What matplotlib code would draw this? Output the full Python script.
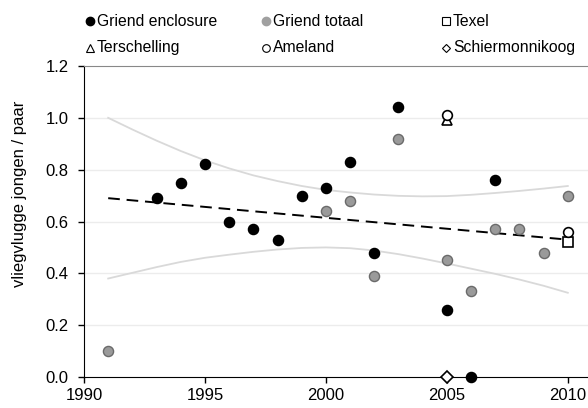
import matplotlib.pyplot as plt
from matplotlib.lines import Line2D

# Griend enclosure (black)
encl_years = [1993, 1994, 1995, 1996, 1997, 1998, 1999, 2000, 2001, 2002, 2003, 2005, 2006, 2007]
encl_vals = [0.69, 0.75, 0.82, 0.60, 0.57, 0.53, 0.70, 0.73, 0.83, 0.48, 1.04, 0.26, 0.00, 0.76]

# Griend totaal (grey)
tot_years = [1991, 2000, 2001, 2002, 2003, 2005, 2006, 2007, 2008, 2009, 2010]
tot_vals = [0.10, 0.64, 0.68, 0.39, 0.92, 0.45, 0.33, 0.57, 0.57, 0.48, 0.70]

texel_years, texel_vals = [2010], [0.52]
tersch_years, tersch_vals = [2005], [0.99]
ameland_years, ameland_vals = [2005, 2010], [1.01, 0.56]
schier_years, schier_vals = [2005], [0.00]

# trend line and band
trend_years = [1991, 2010]
trend_vals = [0.69, 0.53]
band_years = list(range(1991, 2011))
band_upper = [1.00, 0.955, 0.912, 0.872, 0.836, 0.805, 0.778, 0.756, 0.737, 0.722,
              0.712, 0.704, 0.699, 0.697, 0.698, 0.703, 0.71, 0.718, 0.727, 0.737]
band_lower = [0.38, 0.402, 0.424, 0.444, 0.46, 0.472, 0.483, 0.492, 0.498, 0.50,
              0.497, 0.488, 0.474, 0.457, 0.438, 0.418, 0.398, 0.376, 0.352, 0.325]

legend_labels = ["Griend enclosure", "Griend totaal", "Texel",
                 "Terschelling", "Ameland", "Schiermonnikoog"]

plt.rcParams['font.family'] = ['Liberation Sans', 'DejaVu Sans']

W, H = 588, 408
fig = plt.figure(figsize=(W / 100, H / 100), dpi=100)
ax = fig.add_axes([84 / W, 1 - 377 / H, 508 / W, 311 / H])

ax.plot(band_years, band_upper, color='#d9d9d9', lw=1.3, zorder=1)
ax.plot(band_years, band_lower, color='#d9d9d9', lw=1.3, zorder=1)
ax.plot(trend_years, trend_vals, color='black', lw=1.4, dashes=(6, 3.5), zorder=2)

ms = 7.3
ax.plot(tot_years, tot_vals, 'o', ms=ms, mfc='#9a9a9a', mec='#6a6a6a', mew=1.0,
        zorder=3, clip_on=False)
ax.plot(encl_years, encl_vals, 'o', ms=ms, mfc='black', mec='black',
        zorder=4, clip_on=False)
ax.plot(texel_years, texel_vals, 's', ms=6.5, mfc='white', mec='black', mew=1.2,
        zorder=5, clip_on=False)
ax.plot(tersch_years, tersch_vals, '^', ms=7.5, mfc='white', mec='black', mew=1.2,
        zorder=5, clip_on=False)
ax.plot(ameland_years, ameland_vals, 'o', ms=7, mfc='white', mec='black', mew=1.2,
        zorder=6, clip_on=False)
ax.plot(schier_years, schier_vals, 'D', ms=6.5, mfc='white', mec='black', mew=1.2,
        zorder=6, clip_on=False)

ax.set_xlim(1990, 2011)
ax.set_ylim(0, 1.2)
ax.set_xticks([1990, 1995, 2000, 2005, 2010])
yt = [0.0, 0.2, 0.4, 0.6, 0.8, 1.0, 1.2]
ax.set_yticks(yt)
ax.set_yticklabels([f"{v:.1f}" for v in yt])
ax.tick_params(labelsize=12, length=4, width=1, colors='black')
ax.tick_params(axis='y', pad=7)
ax.tick_params(axis='x', pad=4)
for y in yt[1:-1]:
    ax.axhline(y, color='#ececec', lw=1, zorder=0)

ax.spines['right'].set_visible(False)
ax.spines['top'].set_color('#888888')
ax.spines['left'].set_color('black')
ax.spines['bottom'].set_color('black')
ax.set_ylabel("vliegvlugge jongen / paar", fontsize=12)
ax.yaxis.set_label_coords(-57 / 508, (377 - 194) / 311)

# legend, two rows of three, drawn by hand
leg_styles = [
    dict(marker='o', ms=6, mfc='black', mec='black', mew=1),
    dict(marker='o', ms=6, mfc='#a0a0a0', mec='#a0a0a0', mew=1),
    dict(marker='s', ms=5.5, mfc='white', mec='black', mew=0.8),
    dict(marker='^', ms=5.5, mfc='white', mec='black', mew=0.8),
    dict(marker='o', ms=5.5, mfc='white', mec='black', mew=0.8),
    dict(marker='D', ms=4.2, mfc='white', mec='black', mew=0.8),
]
col_x = [90, 266, 446]
row_y = [21, 47.5]
for i, (label, style) in enumerate(zip(legend_labels, leg_styles)):
    mx = col_x[i % 3] / W
    my = 1 - row_y[i // 3] / H
    fig.add_artist(Line2D([mx], [my], ls='', transform=fig.transFigure, **style))
    fig.text(mx + 7 / W, my, label, fontsize=11.3, va='center', ha='left')

fig.savefig("out.png", dpi=100)
